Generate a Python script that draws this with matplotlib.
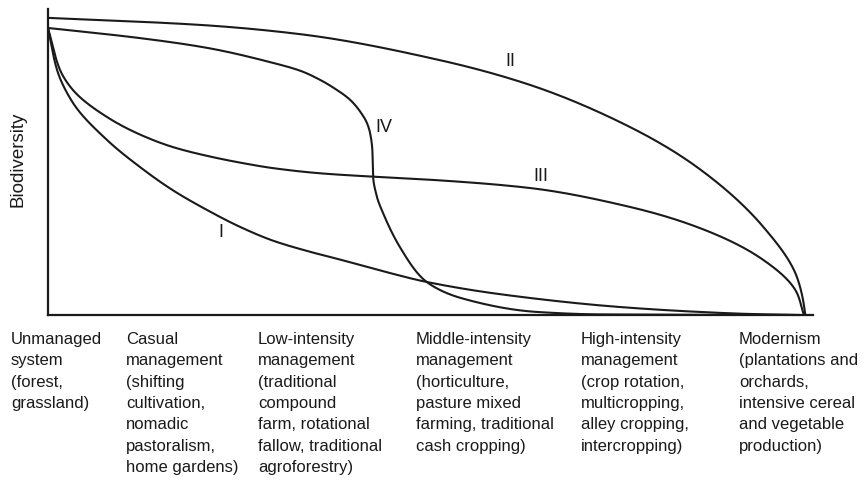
import numpy as np
import matplotlib
matplotlib.use("Agg")
import matplotlib.pyplot as plt

plt.rcParams['font.family'] = ['Liberation Sans', 'DejaVu Sans']

# Management intensity (0-100) vs biodiversity (0-100)
curve_I_x = [0, 1.18, 3.27, 7.71, 12.0, 16.3, 20.8, 25.1, 29.4, 33.9, 38.2, 43.8, 49.5, 59.1, 74.8, 85.2, 92.2, 98.3]
curve_I_y = [93.8, 80.1, 69.3, 57.2, 48.4, 40.8, 34.3, 28.8, 24.3, 20.9, 18.1, 14.3, 10.8, 6.8, 2.6, 1.0, 0.3, 0.0]

curve_II_x = [0, 19.9, 32.9, 51.2, 63.0, 76.1, 84.8, 93.5, 97.9, 98.7, 99.0]
curve_II_y = [97.1, 94.8, 91.8, 83.3, 75.2, 61.4, 48.4, 28.8, 12.4, 4.9, 0.0]

curve_III_x = [0, 1.57, 3.27, 7.71, 12.0, 16.3, 20.8, 25.1, 29.4, 35.6, 42.5, 51.2, 63.0, 76.1, 84.8, 93.5, 97.9, 98.8]
curve_III_y = [93.8, 80.1, 73.5, 64.7, 59.0, 54.9, 52.0, 49.8, 48.0, 46.3, 45.2, 44.0, 41.5, 35.3, 28.8, 18.0, 7.2, 0.0]

curve_IV_x = [0, 12.0, 20.8, 29.4, 33.0, 35.6, 37.3, 39.5, 40.8, 41.7, 42.1, 42.4, 42.5, 43.0, 43.8, 46.0, 49.5, 53.9, 63.9, 72.2, 98.3]
curve_IV_y = [93.8, 90.5, 87.3, 82.4, 79.8, 76.8, 74.3, 70.3, 66.5, 62.7, 59.5, 53.9, 45.1, 38.6, 33.3, 22.2, 10.8, 5.6, 1.0, 0.2, 0.0]

curve_names = ["I", "II", "III", "IV"]
label_x = [22.6, 60.4, 64.4, 43.9]
label_y = [27.1, 82.7, 45.1, 61.4]

categories = [
    "Unmanaged\nsystem\n(forest,\ngrassland)",
    "Casual\nmanagement\n(shifting\ncultivation,\nnomadic\npastoralism,\nhome gardens)",
    "Low-intensity\nmanagement\n(traditional\ncompound\nfarm, rotational\nfallow, traditional\nagroforestry)",
    "Middle-intensity\nmanagement\n(horticulture,\npasture mixed\nfarming, traditional\ncash cropping)",
    "High-intensity\nmanagement\n(crop rotation,\nmulticropping,\nalley cropping,\nintercropping)",
    "Modernism\n(plantations and\norchards,\nintensive cereal\nand vegetable\nproduction)",
]
category_left_px = [11, 126, 258, 416, 581, 739]


def pchip(t, y, tn):
    t = np.asarray(t, float)
    y = np.asarray(y, float)
    h = np.diff(t)
    d = np.diff(y) / h
    n = len(t)
    m = np.zeros(n)
    m[0], m[-1] = d[0], d[-1]
    for k in range(1, n - 1):
        if d[k - 1] * d[k] <= 0:
            m[k] = 0.0
        else:
            w1 = 2 * h[k] + h[k - 1]
            w2 = h[k] + 2 * h[k - 1]
            m[k] = (w1 + w2) / (w1 / d[k - 1] + w2 / d[k])
    idx = np.clip(np.searchsorted(t, tn) - 1, 0, n - 2)
    hh = h[idx]
    s = (tn - t[idx]) / hh
    h00 = 2 * s**3 - 3 * s**2 + 1
    h10 = s**3 - 2 * s**2 + s
    h01 = -2 * s**3 + 3 * s**2
    h11 = s**3 - s**2
    return h00 * y[idx] + h10 * hh * m[idx] + h01 * y[idx + 1] + h11 * hh * m[idx + 1]


def smooth(xs, ys, sx=7.65, sy=3.06):
    xs = np.asarray(xs, float)
    ys = np.asarray(ys, float)
    seg = np.hypot(np.diff(xs) * sx, np.diff(ys) * sy)
    t = np.concatenate([[0], np.cumsum(seg)])
    tn = np.linspace(0, t[-1], 1500)
    return pchip(t, xs, tn), np.clip(pchip(t, ys, tn), 0, None)


W, H = 865, 490
fig = plt.figure(figsize=(W / 100, H / 100), dpi=100)
ax = fig.add_axes([48 / W, (H - 315) / H, 765 / W, 306 / H])
ax.set_xlim(0, 100)
ax.set_ylim(0, 100)

for xs, ys in [(curve_I_x, curve_I_y), (curve_II_x, curve_II_y),
               (curve_III_x, curve_III_y), (curve_IV_x, curve_IV_y)]:
    px, py = smooth(xs, ys)
    ax.plot(px, py, color='#1a1a1a', lw=1.5, solid_capstyle='round',
            solid_joinstyle='round', clip_on=False)

for name, lx, ly in zip(curve_names, label_x, label_y):
    ax.text(lx, ly, name, ha='center', va='center', fontsize=13, color='#1a1a1a')

for s in ['top', 'right']:
    ax.spines[s].set_visible(False)
for s in ['left', 'bottom']:
    ax.spines[s].set_linewidth(1.6)
    ax.spines[s].set_color('#1a1a1a')
ax.set_xticks([])
ax.set_yticks([])

fig.text(18 / W, 1 - 159 / H, "Biodiversity", rotation=90, ha='center', va='center',
         fontsize=13.5, color='#1a1a1a')

for text, px in zip(categories, category_left_px):
    fig.text(px / W, 1 - 332 / H, text, ha='left', va='top', fontsize=12,
             color='#1a1a1a', linespacing=1.53)

fig.savefig("out.png", dpi=100)
